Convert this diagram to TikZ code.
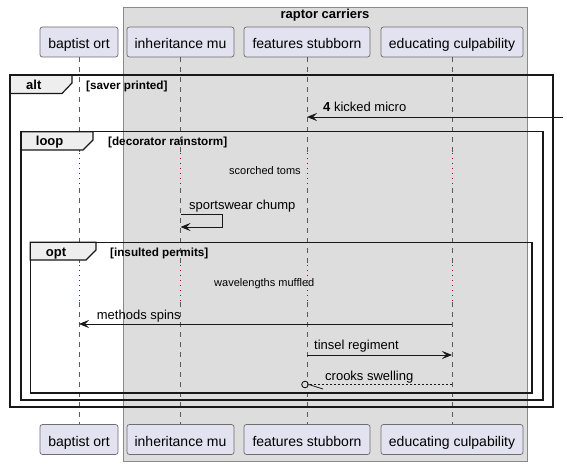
\documentclass[tikz,border=0pt]{standalone}
\usepackage{fontspec}
\setmainfont{Liberation Sans}
\usetikzlibrary{arrows.meta}
\definecolor{partfill}{HTML}{E2E2F0}
\definecolor{partdraw}{HTML}{6E6E6E}
\definecolor{boxfill}{HTML}{DDDDDD}
\definecolor{boxdraw}{HTML}{8A8A8A}
\definecolor{lifecol}{HTML}{5A5A5A}
\definecolor{delaycol}{HTML}{A80036}
\definecolor{tabfill}{HTML}{EEEEEE}
\definecolor{ink}{HTML}{181818}
\tikzset{
  part/.style={draw=partdraw, fill=partfill, line width=0.7pt, rounded corners=2.5pt,
    minimum height=30pt, inner sep=0pt, text height=13pt, text depth=0pt,
    font=\fontsize{14}{16}\selectfont},
  boxst/.style={draw=boxdraw, fill=boxfill, line width=0.6pt},
  grptitle/.style={font=\fontsize{13}{15}\selectfont\bfseries, anchor=base, inner sep=0pt},
  life/.style={draw=lifecol, line width=0.6pt, dash pattern=on 5pt off 5pt},
  delayline/.style={draw=delaycol, line width=0.8pt, dash pattern=on 1pt off 4pt},
  frame/.style={draw=ink, line width=1.6pt},
  tab/.style={draw=ink, fill=tabfill, line width=1.2pt},
  fname/.style={font=\fontsize{13}{15}\selectfont\bfseries, anchor=base west, inner sep=0pt},
  fcond/.style={font=\fontsize{11.7}{13}\selectfont\bfseries, anchor=base west, inner sep=0pt},
  msg/.style={draw=ink, line width=0.8pt, -{Stealth[length=10pt,width=8pt,inset=4pt]}},
  lbl/.style={font=\fontsize{13}{15}\selectfont, anchor=base west, inner sep=0pt},
  dlbl/.style={font=\fontsize{11}{13}\selectfont, anchor=base west, inner sep=0pt},
}
\begin{document}
\begin{tikzpicture}[x=1pt,y=-1pt]
\useasboundingbox (0,0) rectangle (567,465);
\fill[white] (0,0) rectangle (567,465);
% group box
\draw[boxst] (123,7) rectangle (527,461);
\node[grptitle] (ttl) at (325,19) {raptor carriers};
% participants
\node[part, minimum width=78pt]  (ba) at (79,42)    {baptist ort};
\node[part, minimum width=107pt] (im) at (180.5,42) {inheritance mu};
\node[part, minimum width=126pt] (fs) at (307,42)   {features stubborn};
\node[part, minimum width=142pt] (ec) at (452,42)   {educating culpability};
\node[part, minimum width=78pt]  (bb) at (79,439.5)    {baptist ort};
\node[part, minimum width=107pt] (ib) at (180.5,439.5) {inheritance mu};
\node[part, minimum width=126pt] (fb) at (307,439.5)   {features stubborn};
\node[part, minimum width=142pt] (eb) at (452,439.5)   {educating culpability};
% lifelines
\foreach \t/\b in {ba/bb, im/ib, fs/fb, ec/eb}{
  \draw[life] (\t.south) -- (\t |- 0,153);
  \draw[delayline] (\t |- 0,153) -- (\t |- 0,188);
  \draw[life] (\t |- 0,188) -- (\t |- 0,265);
  \draw[delayline] (\t |- 0,265) -- (\t |- 0,302);
  \draw[life] (\t |- 0,302) -- (\b.north);
}
% alt frame
\filldraw[tab] (10,75) -- (72,75) -- (72,83) -- (62,93.5) -- (10,93.5) -- cycle;
\draw[frame] (10,75) rectangle (553,407);
\node[fname] (altn) at (26,90) {alt};
\node[fcond] (altc) at (86,90) {[saver printed]};
% loop frame
\filldraw[tab] (20.7,131.7) -- (93,131.7) -- (93,140) -- (83,150) -- (20.7,150) -- cycle;
\draw[frame] (20.7,131.7) rectangle (543,400);
\node[fname] (loopn) at (35.7,146) {loop};
\node[fcond] (loopc) at (108,146) {[decorator rainstorm]};
% opt frame
\filldraw[tab] (30.3,242.3) -- (96,242.3) -- (96,250) -- (86,260) -- (30.3,260) -- cycle;
\draw[frame] (30.3,242.3) rectangle (532,393);
\node[fname] (optn) at (45.7,256) {opt};
\node[fcond] (optc) at (110,256) {[insulted permits]};
% messages
\coordinate (ext) at (563,117);
\draw[msg] (ext) -- (fs |- 0,117);
\node[lbl] (m1) at (323,112) {\textbf{4} kicked micro};
\node[dlbl] (d1) at (229,175) {scorched toms};
\draw[msg] (im |- 0,214) -- (222,214) -- (222,227) -- (im |- 0,227);
\node[lbl] (m2) at (189,209) {sportswear chump};
\node[dlbl] (d2) at (214,286) {wavelengths muffled};
\draw[msg] (ec |- 0,324) -- (ba |- 0,324);
\node[lbl] (m3) at (96.7,319.3) {methods spins};
\draw[msg] (fs |- 0,355) -- (ec |- 0,355);
\node[lbl] (m4) at (314,349) {tinsel regiment};
\node[circle, draw=ink, line width=0.9pt, minimum size=6.6pt, inner sep=0pt] (oc) at (305,384.5) {};
\draw[draw=ink, line width=0.8pt, dash pattern=on 2pt off 2pt] (ec |- 0,384.5) -- (oc.east);
\draw[draw=ink, line width=0.8pt] (oc.east) -- (323,389);
\node[lbl] (m5) at (325,380.7) {crooks swelling};
\end{tikzpicture}
\end{document}
